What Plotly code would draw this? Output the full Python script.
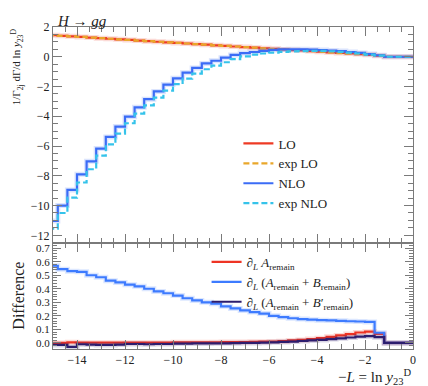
import plotly.graph_objects as go
from plotly.subplots import make_subplots

# ---------------- data ----------------
bin_edges = [-15.2, -14.8, -14.4, -14.0, -13.6, -13.2, -12.8, -12.4, -12.0, -11.6,
             -11.2, -10.8, -10.4, -10.0, -9.6, -9.2, -8.8, -8.4, -8.0, -7.6,
             -7.2, -6.8, -6.4, -6.0, -5.6, -5.2, -4.8, -4.4, -4.0, -3.6,
             -3.2, -2.8, -2.4, -2.0, -1.6, -1.2, -0.8, -0.4, 0.0]

lo = [1.45, 1.41, 1.37, 1.33, 1.29, 1.25, 1.21, 1.17, 1.13, 1.09,
      1.05, 1.01, 0.97, 0.93, 0.89, 0.85, 0.81, 0.77, 0.73, 0.69,
      0.65, 0.61, 0.57, 0.53, 0.49, 0.45, 0.42, 0.38, 0.34, 0.30,
      0.26, 0.22, 0.18, 0.13, 0.07, 0.0, 0.0, 0.0]
exp_lo = [1.45, 1.41, 1.37, 1.33, 1.29, 1.25, 1.21, 1.17, 1.13, 1.09,
          1.05, 1.01, 0.97, 0.93, 0.89, 0.85, 0.81, 0.77, 0.73, 0.69,
          0.65, 0.61, 0.57, 0.53, 0.49, 0.45, 0.41, 0.37, 0.33, 0.29,
          0.25, 0.21, 0.17, 0.12, 0.07, 0.0, 0.0, 0.0]
nlo = [-11.04, -10.0, -8.95, -7.9, -7.03, -6.17, -5.39, -4.69, -4.03, -3.4,
       -2.85, -2.33, -1.87, -1.45, -1.07, -0.75, -0.45, -0.27, -0.06, 0.12,
       0.25, 0.32, 0.4, 0.46, 0.49, 0.5, 0.5, 0.48, 0.45, 0.42,
       0.38, 0.32, 0.26, 0.18, 0.1, 0.0, 0.0, 0.0]
exp_nlo = [-11.55, -10.5, -9.47, -8.45, -7.56, -6.65, -5.89, -5.16, -4.47, -3.82,
           -3.27, -2.75, -2.27, -1.84, -1.47, -1.14, -0.84, -0.6, -0.37, -0.16,
           0.03, 0.15, 0.22, 0.28, 0.33, 0.36, 0.38, 0.39, 0.39, 0.37,
           0.33, 0.28, 0.22, 0.15, 0.07, 0.0, 0.0, 0.0]

d_a = [0.0, 0.0, 0.004, 0.002, 0.002, 0.002, 0.002, 0.002, 0.002, 0.002,
       0.002, 0.002, 0.002, 0.004, 0.004, 0.004, 0.004, 0.004, 0.006, 0.006,
       0.006, 0.008, 0.009, 0.01, 0.013, 0.018, 0.022, 0.028, 0.035, 0.045,
       0.055, 0.065, 0.077, 0.083, 0.066, 0.0, 0.0, 0.0]
d_ab = [0.57, 0.545, 0.53, 0.525, 0.5, 0.485, 0.46, 0.447, 0.43, 0.418,
        0.4, 0.38, 0.367, 0.35, 0.33, 0.314, 0.3, 0.29, 0.27, 0.255,
        0.24, 0.228, 0.217, 0.2, 0.19, 0.182, 0.176, 0.172, 0.168, 0.166,
        0.163, 0.16, 0.158, 0.155, 0.075, 0.0, 0.0, 0.0]
d_abp = [-0.015, -0.015, -0.03, -0.01, -0.012, -0.015, -0.015, -0.012, -0.008, -0.008,
         -0.01, -0.008, -0.008, -0.005, -0.005, -0.004, -0.004, -0.003, -0.003, -0.002,
         0.0, 0.0, 0.002, 0.004, 0.007, 0.01, 0.014, 0.018, 0.022, 0.028,
         0.034, 0.04, 0.047, 0.05, 0.042, 0.0, 0.0, 0.0]

x_major = [-14, -12, -10, -8, -6, -4, -2, 0]

# ---------------- style ----------------
SERIF = "Liberation Serif, Times New Roman, serif"
AX = "#7a7a7a"
C_LO = "#ee3a24"
C_EXPLO = "#e9a72b"
C_NLO = "#3b6cf6"
C_EXPNLO = "#35c3ea"
C_DA = "#ee3424"
C_DAB = "#3d7bff"
C_DABP = "#2c1d6e"


def step(vals):
    return list(vals) + [vals[-1]]


fig = make_subplots(rows=2, cols=1, shared_xaxes=True, vertical_spacing=0,
                    row_heights=[0.67, 0.33])


def add(vals, color, name, row, dash=None, legend="legend", halo=True, width=2.2):
    if halo:
        fig.add_trace(go.Scatter(x=bin_edges, y=step(vals), mode="lines",
                                 line=dict(color=color, width=5, shape="hv"),
                                 opacity=0.18, showlegend=False, hoverinfo="skip"),
                      row=row, col=1)
    fig.add_trace(go.Scatter(x=bin_edges, y=step(vals), mode="lines", name=name,
                             line=dict(color=color, width=width, shape="hv",
                                       dash=dash if dash else "solid"),
                             legend=legend),
                  row=row, col=1)


add(lo, C_LO, "LO", 1)
add(exp_lo, C_EXPLO, "exp LO", 1, dash="6px,3px", halo=False)
add(nlo, C_NLO, "NLO", 1)
add(exp_nlo, C_EXPNLO, "exp NLO", 1, dash="6px,3px", halo=False)

add(d_a, C_DA, "∂<sub><i>L</i></sub> <i>A</i><sub>remain</sub>", 2, legend="legend2")
add(d_ab, C_DAB, "∂<sub><i>L</i></sub> (<i>A</i><sub>remain</sub> + <i>B</i><sub>remain</sub>)", 2, legend="legend2")
add(d_abp, C_DABP, "∂<sub><i>L</i></sub> (<i>A</i><sub>remain</sub> + <i>B</i>′<sub>remain</sub>)", 2, legend="legend2")

axis_common = dict(showline=True, linecolor=AX, linewidth=1, mirror="allticks",
                   ticks="inside", tickcolor=AX, showgrid=False, zeroline=False,
                   tickfont=dict(family=SERIF, size=12, color="#222"))

fig.update_xaxes(**axis_common, range=[-15, 0], tickvals=x_major, ticklen=9,
                 minor=dict(ticks="inside", dtick=0.5, tick0=0, ticklen=5, tickcolor=AX))
fig.update_xaxes(showticklabels=False, row=1, col=1)
fig.update_yaxes(**axis_common)
fig.update_yaxes(range=[-12.5, 2], tickvals=[2, 0, -2, -4, -6, -8, -10, -12], ticklen=9,
                 minor=dict(ticks="inside", dtick=0.5, tick0=0, ticklen=5, tickcolor=AX),
                 row=1, col=1)
fig.update_yaxes(range=[-0.045, 0.74], tickvals=[0.0, 0.1, 0.2, 0.3, 0.4, 0.5, 0.6, 0.7],
                 tickformat=".1f", ticklen=8, tickfont=dict(family=SERIF, size=11, color="#222"),
                 minor=dict(ticks="inside", dtick=0.02, tick0=0, ticklen=4, tickcolor=AX),
                 row=2, col=1)

# the page adds an 8px body margin, so the figure is shifted by 8px
fig.update_layout(
    width=420, height=378, autosize=False,
    margin=dict(l=45, r=14, t=17, b=37),
    plot_bgcolor="white", paper_bgcolor="white",
    font=dict(family=SERIF, size=13, color="#222"),
    legend=dict(x=0.515, y=0.545, xanchor="left", yanchor="middle",
                bgcolor="rgba(0,0,0,0)", font=dict(family=SERIF, size=13, color="#222"),
                itemwidth=30, tracegroupgap=0),
    legend2=dict(x=0.4266, y=0.208, xanchor="left", yanchor="middle",
                 bgcolor="rgba(0,0,0,0)", font=dict(family=SERIF, size=13, color="#222"),
                 itemwidth=30, tracegroupgap=0),
    annotations=[
        dict(text="<i>H</i> → <i>gg</i>", xref="paper", yref="paper", x=0.005, y=1.05,
             xanchor="left", yanchor="top", showarrow=False,
             font=dict(family=SERIF, size=15, color="#222")),
        dict(text="1/Γ<sub>2j</sub> dΓ/d ln <i>y</i><sub>23</sub><sup>D</sup>",
             xref="paper", yref="paper", x=-0.1, y=0.875, textangle=-90,
             xanchor="center", yanchor="middle", showarrow=False,
             font=dict(family=SERIF, size=11, color="#222")),
        dict(text="Difference", xref="paper", yref="paper", x=-0.095, y=0.165, textangle=-90,
             xanchor="center", yanchor="middle", showarrow=False,
             font=dict(family=SERIF, size=16, color="#222")),
        dict(text="−<i>L</i> = ln <i>y</i><sub>23</sub><sup>D</sup>", xref="paper", yref="paper",
             x=1.0, y=-0.088, xanchor="right", yanchor="middle", showarrow=False,
             font=dict(family=SERIF, size=15, color="#222")),
    ],
)

fig.write_html("out.html")
